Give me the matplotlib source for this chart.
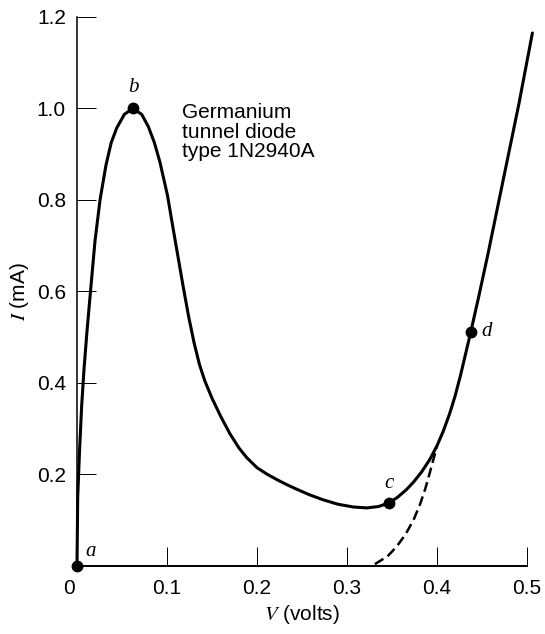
import matplotlib
matplotlib.use('Agg')
import matplotlib.pyplot as plt
import matplotlib.transforms as mtransforms

plt.rcParams['font.family'] = ['Liberation Sans', 'DejaVu Sans']
plt.rcParams['mathtext.fontset'] = 'stix'

# tunnel diode I-V curve (volts, mA)
volts = [0.0, 0.0008, 0.0028, 0.0052, 0.0078, 0.011, 0.015, 0.020, 0.0256, 0.0322,
         0.038, 0.0441, 0.0526, 0.0619, 0.0719, 0.0793, 0.086, 0.0922, 0.1005, 0.109,
         0.118, 0.124, 0.130, 0.136, 0.142, 0.150, 0.160, 0.170, 0.180, 0.1886,
         0.200, 0.211, 0.222, 0.233, 0.244, 0.258, 0.273, 0.290, 0.307, 0.322,
         0.335, 0.3467, 0.356, 0.366, 0.3737, 0.383, 0.392, 0.400, 0.407, 0.414,
         0.420, 0.426, 0.4374, 0.446, 0.457, 0.469, 0.480, 0.491, 0.506]
current = [0.0, 0.150, 0.250, 0.350, 0.430, 0.510, 0.600, 0.710, 0.800, 0.876,
           0.925, 0.957, 0.987, 1.000, 0.987, 0.960, 0.925, 0.882, 0.810, 0.712,
           0.610, 0.545, 0.488, 0.440, 0.404, 0.366, 0.325, 0.288, 0.257, 0.236,
           0.214, 0.200, 0.188, 0.177, 0.167, 0.155, 0.144, 0.134, 0.128, 0.126,
           0.129, 0.137, 0.149, 0.166, 0.182, 0.205, 0.232, 0.262, 0.294, 0.332,
           0.370, 0.415, 0.510, 0.585, 0.685, 0.800, 0.905, 1.010, 1.165]

# dashed branch (normal diode current)
dash_v = [0.331, 0.345, 0.355, 0.365, 0.374, 0.381, 0.387, 0.392, 0.396, 0.400]
dash_i = [0.003, 0.020, 0.041, 0.068, 0.100, 0.133, 0.168, 0.203, 0.232, 0.260]

# labelled points a, b, c, d
pt_names = ['a', 'b', 'c', 'd']
pt_v = [0.0, 0.062, 0.3467, 0.4374]
pt_i = [0.0, 1.0, 0.137, 0.510]
lbl_v = [0.0152, 0.0622, 0.3467, 0.455]
lbl_i = [0.030, 1.045, 0.180, 0.511]

x_ticks = [0, 0.1, 0.2, 0.3, 0.4, 0.5]
x_tick_labels = ['0', '0.1', '0.2', '0.3', '0.4', '0.5']
y_ticks = [0.2, 0.4, 0.6, 0.8, 1.0, 1.2]
y_tick_labels = ['0.2', '0.4', '0.6', '0.8', '1.0', '1.2']

fig = plt.figure(figsize=(5.45, 6.34), dpi=100)
ax = fig.add_axes([77 / 545, 68.5 / 634, 450 / 545, 548.5 / 634])

ax.plot(volts, current, color='black', linewidth=2.2, solid_capstyle='round',
        solid_joinstyle='round', clip_on=False)
ax.plot(dash_v, dash_i, color='black', linewidth=1.8, dashes=(4, 2), clip_on=False)
ax.plot(pt_v, pt_i, 'o', color='black', markersize=7.5, clip_on=False, zorder=5)

for name, x, y in zip(pt_names, lbl_v, lbl_i):
    ax.text(x, y, name, fontsize=15, fontstyle='italic', family='Liberation Serif',
            ha='center', va='center')

ax.text(0.1167, 1.012, 'Germanium\ntunnel diode\ntype 1N2940A', fontsize=15,
        ha='left', va='top', linespacing=1.05)

ax.set_xlim(0, 0.5)
ax.set_ylim(0, 1.2)
ax.set_xticks(x_ticks)
ax.set_xticklabels(x_tick_labels)
ax.set_yticks(y_ticks)
ax.set_yticklabels(y_tick_labels)
ax.tick_params(direction='in', length=14, width=0.7, labelsize=15)
ax.tick_params(axis='y', pad=8)
ax.tick_params(axis='x', pad=10)

# the "0" sits a little left of the origin in the original
zero_lbl = ax.get_xticklabels()[0]
zero_lbl.set_transform(zero_lbl.get_transform() +
                       mtransforms.ScaledTranslation(-0.08, 0, fig.dpi_scale_trans))

for side in ['top', 'right']:
    ax.spines[side].set_visible(False)
ax.spines['left'].set_linewidth(1.1)
ax.spines['bottom'].set_linewidth(1.4)

ax.set_xlabel(r'$V$ (volts)', fontsize=15, labelpad=3)
ax.set_ylabel(r'$I$ (mA)', fontsize=15, labelpad=4)

fig.savefig('out.png', dpi=100)
